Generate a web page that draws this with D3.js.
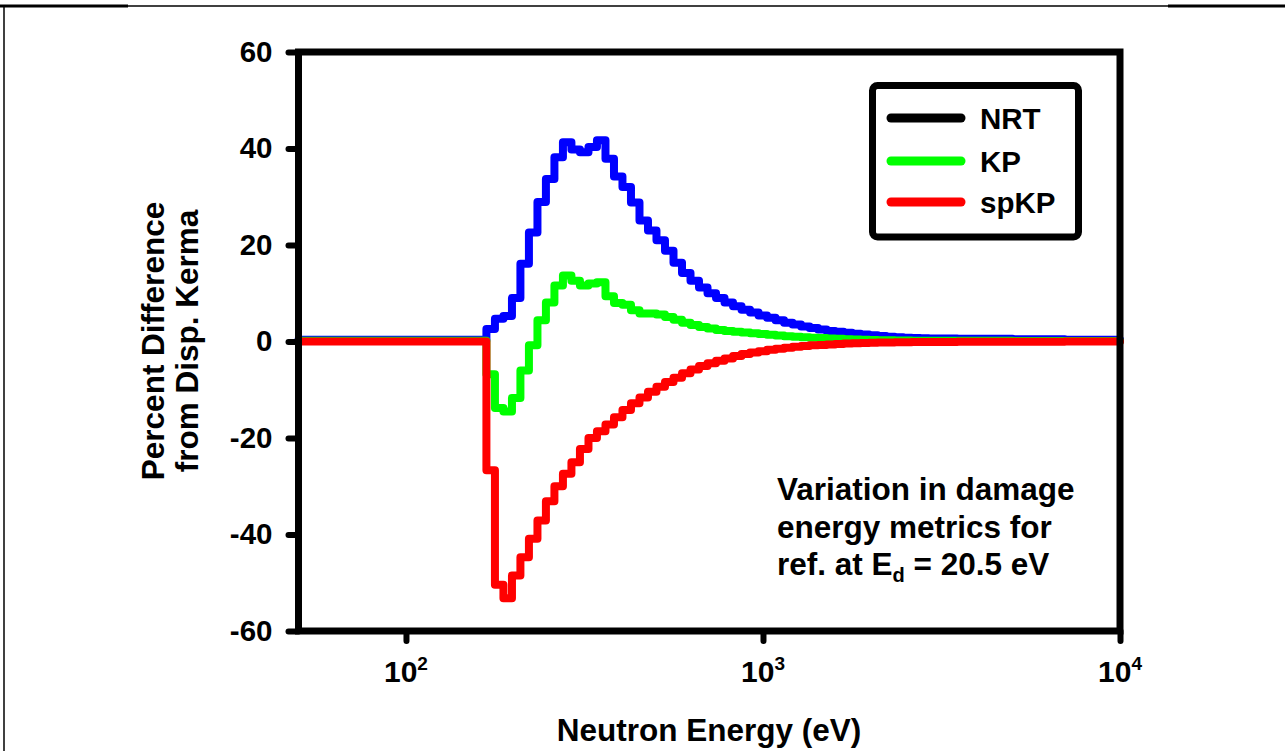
<!DOCTYPE html>
<html>
<head>
<meta charset="utf-8">
<script src="https://cdn.jsdelivr.net/npm/d3@7"></script>
<style>
  html, body { margin: 0; padding: 0; background: #fff; }
  svg { display: block; font-family: "Liberation Sans", Arial, sans-serif; font-weight: bold; }
</style>
</head>
<body>
<svg id="chart" width="1285" height="751"></svg>
<script>
// ---------------- data ----------------
// Left edges of the energy bins (eV); the first entry starts the flat zero region
const energy = [50,
  168.0, 177.5, 187.5, 198.1, 209.2, 221.0, 233.5, 246.6, 260.5, 275.2,
  290.7, 307.1, 324.5, 342.7, 362.1, 382.5, 404.0, 426.8, 450.9, 476.3,
  503.1, 531.5, 561.5, 593.2, 626.6, 661.9, 699.3, 738.7, 780.3, 824.3,
  870.8, 919.9, 971.8, 1026.6, 1084.4, 1145.6, 1210.2, 1278.4, 1350.5, 1426.6,
  1507.1, 1592.1, 1681.8, 1776.7, 1876.9, 1982.7, 2094.5, 2212.6, 2337.4, 2469.2,
  2608.4, 2755.5, 2910.9, 3500, 5000, 7000, 10000];

// NRT (plotted in blue)
const nrt = [0.35,
  2.6, 4.7, 5.3, 9.0, 16.1, 22.6, 28.9, 33.7, 38.2, 41.3,
  39.8, 39.2, 40.3, 41.7, 37.9, 34.2, 32.0, 28.8, 25.1, 23.0,
  21.0, 18.8, 16.3, 14.2, 12.6, 11.2, 10.0, 9.0, 8.1, 7.3,
  6.6, 6.0, 5.4, 4.9, 4.4, 3.9, 3.5, 3.1, 2.8, 2.5,
  2.2, 2.0, 1.8, 1.6, 1.45, 1.3, 1.15, 1.0, 0.9, 0.8,
  0.72, 0.65, 0.6, 0.55, 0.45, 0.35, 0.3];

// KP (green)
const kp = [0.15,
  -6.8, -13.8, -14.5, -11.7, -6.0, -0.8, 4.4, 8.1, 11.6, 13.7,
  12.6, 11.6, 12.0, 12.3, 9.4, 8.0, 7.6, 6.5, 5.8, 5.8,
  5.6, 5.1, 4.5, 3.9, 3.4, 3.0, 2.7, 2.4, 2.2, 2.0,
  1.85, 1.7, 1.55, 1.4, 1.25, 1.1, 1.0, 0.9, 0.8, 0.7,
  0.62, 0.55, 0.48, 0.42, 0.37, 0.32, 0.28, 0.25, 0.22, 0.2,
  0.18, 0.16, 0.15, 0.13, 0.12, 0.1, 0.1];

// spKP (red)
const spkp = [0,
  -26.7, -50.4, -53.2, -48.5, -44.7, -40.9, -37.1, -33.1, -30.0, -27.4,
  -25.0, -22.3, -20.0, -18.6, -17.2, -15.7, -14.2, -12.8, -11.6, -10.4,
  -9.4, -8.4, -7.5, -6.6, -5.8, -5.1, -4.5, -4.0, -3.5, -3.0,
  -2.6, -2.3, -2.0, -1.7, -1.5, -1.3, -1.1, -0.95, -0.8, -0.7,
  -0.6, -0.5, -0.43, -0.37, -0.32, -0.27, -0.23, -0.2, -0.17, -0.14,
  -0.12, -0.1, -0.08, -0.05, -0.03, -0.02, 0];

const yTicks = [-60, -40, -20, 0, 20, 40, 60];
const xTicks = [100, 1000, 10000];
const xTickBase = ["10", "10", "10"];
const xTickExp = ["2", "3", "4"];

const seriesNames = ["NRT", "KP", "spKP"];
const legendColors = ["#000000", "#00ff00", "#ff0000"];
const curveColors = ["#0000ff", "#00ff00", "#ff0000"];

const xTitle = "Neutron Energy (eV)";
const yTitle = ["Percent Difference", "from Disp. Kerma"];
const noteLines = ["Variation in damage", "energy metrics for"];

// ---------------- drawing ----------------
const svg = d3.select("#chart");

// page frame lines
svg.append("line").attr("x1", 0).attr("x2", 1285).attr("y1", 6).attr("y2", 6)
  .attr("stroke", "#000").attr("stroke-width", 1.5);
svg.append("line").attr("x1", 0).attr("x2", 128).attr("y1", 6).attr("y2", 6)
  .attr("stroke", "#000").attr("stroke-width", 3);
svg.append("line").attr("x1", 1168).attr("x2", 1285).attr("y1", 6).attr("y2", 6)
  .attr("stroke", "#000").attr("stroke-width", 3);
svg.append("line").attr("x1", 4).attr("x2", 4).attr("y1", 6).attr("y2", 751)
  .attr("stroke", "#000").attr("stroke-width", 1.5);

const x = d3.scaleLog().domain([50, 10000]).range([298.5, 1120]);
const y = d3.scaleLinear().domain([-60, 60]).range([631, 52]);

// curves
const seriesData = [nrt, kp, spkp];
const line = d3.line()
  .x(d => x(d[0]))
  .y(d => y(d[1]))
  .curve(d3.curveStepAfter);

seriesData.forEach((vals, i) => {
  const pts = energy.map((e, j) => [e, vals[j]]);
  svg.append("path")
    .attr("d", line(pts))
    .attr("fill", "none")
    .attr("stroke", curveColors[i])
    .attr("stroke-width", 8)
    .attr("stroke-linejoin", "round")
    .attr("stroke-linecap", "round");
});

// axes ticks
const yAxis = d3.axisLeft(y).tickValues(yTicks).tickSize(10).tickSizeOuter(0).tickPadding(16)
  .tickFormat(d => String(d));
const gy = svg.append("g").attr("transform", `translate(${x(50)},0)`).call(yAxis);
gy.select(".domain").remove();
gy.selectAll(".tick line").attr("stroke", "#000").attr("stroke-width", 6).attr("stroke-linecap", "round");
gy.selectAll(".tick text").attr("font-size", 29.5).attr("font-weight", "bold")
  .attr("font-family", "'Liberation Sans', Arial, sans-serif").attr("fill", "#000");

const xAxis = d3.axisBottom(x).tickValues(xTicks).tickSize(10).tickSizeOuter(0).tickFormat("");
const gx = svg.append("g").attr("transform", `translate(0,${y(-60)})`).call(xAxis);
gx.select(".domain").remove();
gx.selectAll(".tick line").attr("stroke", "#000").attr("stroke-width", 6).attr("stroke-linecap", "round");

// x tick labels with superscripts
xTicks.forEach((t, i) => {
  const txt = svg.append("text")
    .attr("x", x(t))
    .attr("y", 682)
    .attr("text-anchor", "middle")
    .attr("font-size", 30)
    .attr("fill", "#000");
  txt.append("tspan").text(xTickBase[i]);
  txt.append("tspan").attr("font-size", 19).attr("dy", -12).text(xTickExp[i]);
});

// plot frame
svg.append("rect")
  .attr("x", x(50)).attr("y", y(60))
  .attr("width", x(10000) - x(50)).attr("height", y(-60) - y(60))
  .attr("fill", "none").attr("stroke", "#000").attr("stroke-width", 7);

// axis titles
svg.append("text").attr("x", 709).attr("y", 741).attr("text-anchor", "middle")
  .attr("font-size", 31.5).attr("fill", "#000").text(xTitle);

yTitle.forEach((t, i) => {
  svg.append("text")
    .attr("transform", `translate(${164 + i * 34},341) rotate(-90)`)
    .attr("text-anchor", "middle")
    .attr("font-size", 31.5).attr("fill", "#000").text(t);
});

// legend
const lg = svg.append("g");
lg.append("rect").attr("x", 872.5).attr("y", 85.5).attr("width", 206).attr("height", 151.5)
  .attr("rx", 5).attr("fill", "#fff").attr("stroke", "#000").attr("stroke-width", 7);
const legendY = [118, 161, 202];
seriesNames.forEach((n, i) => {
  lg.append("line").attr("x1", 891).attr("x2", 961).attr("y1", legendY[i]).attr("y2", legendY[i])
    .attr("stroke", legendColors[i]).attr("stroke-width", 9).attr("stroke-linecap", "round");
  lg.append("text").attr("x", 980).attr("y", legendY[i] + 11)
    .attr("font-size", 29.5).attr("fill", "#000").text(n);
});

// annotation
const noteY = [500, 538, 575];
noteLines.forEach((t, i) => {
  svg.append("text").attr("x", 777).attr("y", noteY[i]).attr("font-size", 31.5)
    .attr("fill", "#000").text(t);
});
const n3 = svg.append("text").attr("x", 777).attr("y", noteY[2]).attr("font-size", 31.5).attr("fill", "#000");
n3.append("tspan").text("ref. at E");
n3.append("tspan").attr("font-size", 20).attr("dy", 7).text("d");
n3.append("tspan").attr("dy", -7).text(" = 20.5 eV");
</script>
</body>
</html>
